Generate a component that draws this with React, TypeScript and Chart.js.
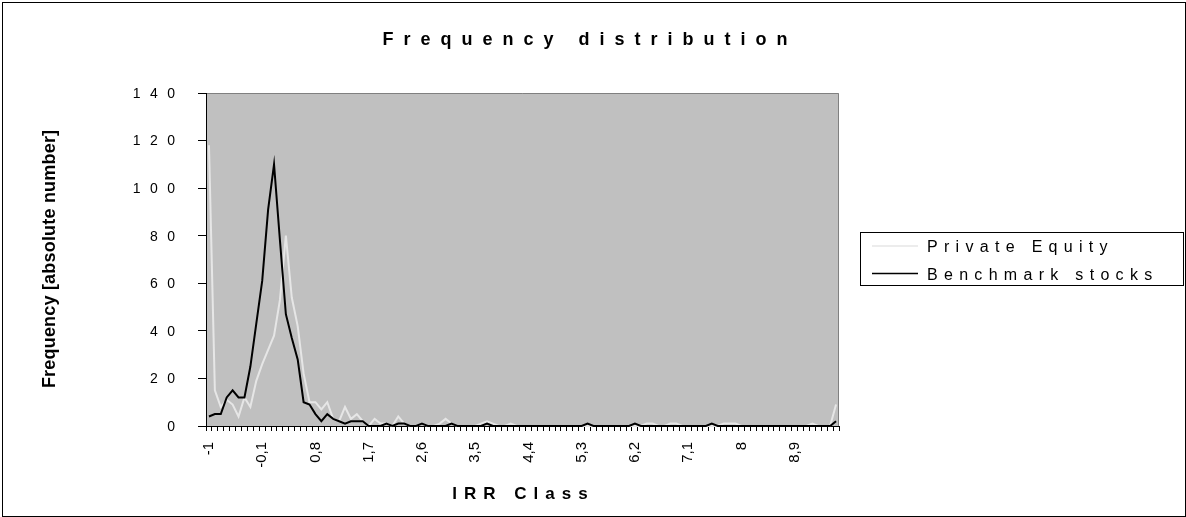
import { useEffect, useRef } from 'react';
import { Chart, registerables } from 'chart.js';

Chart.register(...registerables);

const FONT = '"Liberation Sans", Arial, Helvetica, sans-serif';

const titleText = 'Frequency distribution';
const xAxisTitle = 'IRR Class';
const yAxisTitle = 'Frequency [absolute number]';
const seriesNames = ['Private Equity', 'Benchmark stocks'];
const seriesColors = ['#E6E6E6', '#000000'];
const yTicks = [0, 20, 40, 60, 80, 100, 120, 140];

const categories = [
  '-1', '-0,9', '-0,8', '-0,7', '-0,6', '-0,5', '-0,4', '-0,3', '-0,2', '-0,1',
  '0', '0,1', '0,2', '0,3', '0,4', '0,5', '0,6', '0,7', '0,8', '0,9',
  '1', '1,1', '1,2', '1,3', '1,4', '1,5', '1,6', '1,7', '1,8', '1,9',
  '2', '2,1', '2,2', '2,3', '2,4', '2,5', '2,6', '2,7', '2,8', '2,9',
  '3', '3,1', '3,2', '3,3', '3,4', '3,5', '3,6', '3,7', '3,8', '3,9',
  '4', '4,1', '4,2', '4,3', '4,4', '4,5', '4,6', '4,7', '4,8', '4,9',
  '5', '5,1', '5,2', '5,3', '5,4', '5,5', '5,6', '5,7', '5,8', '5,9',
  '6', '6,1', '6,2', '6,3', '6,4', '6,5', '6,6', '6,7', '6,8', '6,9',
  '7', '7,1', '7,2', '7,3', '7,4', '7,5', '7,6', '7,7', '7,8', '7,9',
  '8', '8,1', '8,2', '8,3', '8,4', '8,5', '8,6', '8,7', '8,8', '8,9',
  '9', '9,1', '9,2', '9,3', '9,4', '9,5', '9,6',
];

const privateEquity = [
  118, 15, 8, 11, 9, 4, 12, 8, 19, 26,
  32, 38, 53, 80, 54, 42, 22, 10, 10, 7,
  10, 3, 2, 8, 3, 5, 2, 0, 3, 1,
  1, 0, 4, 1, 0, 0, 1, 0, 0, 1,
  3, 1, 0, 0, 0, 0, 1, 2, 1, 0,
  0, 1, 0, 0, 0, 0, 0, 0, 0, 0,
  0, 0, 0, 0, 0, 0, 0, 0, 0, 0,
  0, 0, 0, 0, 1, 1, 0, 0, 1, 1,
  0, 0, 0, 0, 0, 0, 0, 1, 1, 1,
  0, 0, 0, 0, 0, 0, 0, 0, 0, 0,
  0, 0, 1, 0, 0, 0, 9,
];

const benchmarkStocks = [
  4, 5, 5, 12, 15, 12, 12, 25, 43, 61,
  91, 110, 78, 47, 37, 28, 10, 9, 5, 2,
  5, 3, 2, 1, 2, 2, 2, 0, 0, 0,
  1, 0, 1, 1, 0, 0, 1, 0, 0, 0,
  0, 1, 0, 0, 0, 0, 0, 1, 0, 0,
  0, 0, 0, 0, 0, 0, 0, 0, 0, 0,
  0, 0, 0, 0, 1, 0, 0, 0, 0, 0,
  0, 0, 1, 0, 0, 0, 0, 0, 0, 0,
  0, 0, 0, 0, 0, 1, 0, 0, 0, 0,
  0, 0, 0, 0, 0, 0, 0, 0, 0, 0,
  0, 0, 0, 0, 0, 0, 2,
];

function drawSpaced(ctx: CanvasRenderingContext2D, text: string, x: number, y: number, ls: number, align: 'left' | 'center' | 'right') {
  ctx.save();
  (ctx as any).letterSpacing = ls + 'px';
  ctx.textAlign = 'left';
  const w = ctx.measureText(text).width - ls;
  let sx = x;
  if (align === 'center') sx = x - w / 2;
  else if (align === 'right') sx = x - w;
  ctx.fillText(text, sx, y);
  ctx.restore();
}

export default function App() {
  const ref = useRef<HTMLCanvasElement>(null);

  useEffect(() => {
    document.body.style.margin = '0';
    const canvas = ref.current;
    if (!canvas) return;

    const decor = {
      id: 'decor',
      beforeDraw(chart: any) {
        const { ctx, chartArea: a } = chart;
        ctx.save();
        ctx.fillStyle = '#FFFFFF';
        ctx.fillRect(0, 0, chart.width, chart.height);
        ctx.fillStyle = '#C0C0C0';
        ctx.fillRect(a.left, a.top, a.right - a.left, a.bottom - a.top);
        ctx.strokeStyle = '#808080';
        ctx.lineWidth = 1;
        ctx.beginPath();
        ctx.moveTo(a.left, a.top + 0.5);
        ctx.lineTo(a.right - 0.5, a.top + 0.5);
        ctx.lineTo(a.right - 0.5, a.bottom);
        ctx.stroke();
        ctx.restore();
      },
      afterDraw(chart: any) {
        const { ctx } = chart;
        const yScale = chart.scales.y;
        ctx.save();
        // outer frame
        ctx.strokeStyle = '#000';
        ctx.lineWidth = 1;
        ctx.strokeRect(2.5, 2.5, chart.width - 3, chart.height - 3);

        ctx.fillStyle = '#000';
        ctx.textBaseline = 'alphabetic';

        // title
        ctx.font = 'bold 18px ' + FONT;
        drawSpaced(ctx, titleText, 585, 45, 10, 'center');

        // x axis title
        ctx.font = 'bold 17px ' + FONT;
        drawSpaced(ctx, xAxisTitle, 520, 499, 7, 'center');

        // y axis title
        ctx.save();
        ctx.translate(54.5, 259);
        ctx.rotate(-Math.PI / 2);
        ctx.font = 'bold 18px ' + FONT;
        drawSpaced(ctx, yAxisTitle, 0, 0, 0.2, 'center');
        ctx.restore();

        // y tick labels
        ctx.font = '14px ' + FONT;
        ctx.textBaseline = 'middle';
        yTicks.forEach((v) => {
          const y = yScale.getPixelForValue(v);
          drawSpaced(ctx, String(v), 175, y + 1, 9.5, 'right');
        });

        // legend
        ctx.textBaseline = 'alphabetic';
        ctx.strokeStyle = '#000';
        ctx.lineWidth = 1;
        ctx.strokeRect(860.5, 232.5, 323, 53);
        const rows = [246, 273.5];
        const baselines = [252.3, 280];
        ctx.font = '16px ' + FONT;
        seriesNames.forEach((name, i) => {
          ctx.strokeStyle = seriesColors[i];
          ctx.lineWidth = 1.5;
          ctx.beginPath();
          ctx.moveTo(872, rows[i]);
          ctx.lineTo(918, rows[i]);
          ctx.stroke();
          ctx.fillStyle = '#000';
          drawSpaced(ctx, name, 927, baselines[i], 6.3, 'left');
        });
        ctx.restore();
      },
    };

    const chart = new Chart(canvas, {
      type: 'line',
      data: {
        labels: categories,
        datasets: [
          {
            label: seriesNames[0],
            data: privateEquity,
            borderColor: seriesColors[0],
            backgroundColor: seriesColors[0],
            borderWidth: 2,
            pointRadius: 0,
            tension: 0,
            clip: false as any,
            order: 1,
          },
          {
            label: seriesNames[1],
            data: benchmarkStocks,
            borderColor: seriesColors[1],
            backgroundColor: seriesColors[1],
            borderWidth: 2,
            pointRadius: 0,
            tension: 0,
            clip: false as any,
            order: 0,
          },
        ],
      },
      options: {
        animation: false,
        responsive: false,
        devicePixelRatio: 1,
        layout: { padding: { top: 93, right: 1186 - 839, left: 0, bottom: 0 } },
        plugins: {
          legend: { display: false },
          title: { display: false },
          tooltip: { enabled: false },
        },
        scales: {
          x: {
            type: 'category',
            offset: true,
            grid: {
              offset: true,
              drawOnChartArea: false,
              drawTicks: true,
              tickLength: 5,
              color: '#000',
              lineWidth: 1,
            },
            border: { display: true, color: '#000', width: 1 },
            ticks: {
              autoSkip: false,
              minRotation: 90,
              maxRotation: 90,
              padding: 11,
              color: '#000',
              font: { family: FONT, size: 15 },
              callback: (_v: any, i: number) => (i % 9 === 0 ? categories[i] : ''),
            },
            afterFit: (s: any) => {
              s.height = 517 - 426;
            },
          },
          y: {
            min: 0,
            max: 140,
            ticks: { display: false, stepSize: 20 },
            grid: {
              drawOnChartArea: false,
              drawTicks: true,
              tickLength: 8,
              color: '#000',
            },
            border: { display: true, color: '#000', width: 1 },
            afterFit: (s: any) => {
              s.width = 206;
            },
          },
        },
      },
      plugins: [decor],
    });

    return () => chart.destroy();
  }, []);

  return (
    <div style={{ position: 'absolute', left: 0, top: 0, width: 1186, height: 517 }}>
      <canvas ref={ref} width={1186} height={517} style={{ display: 'block' }} />
    </div>
  );
}
